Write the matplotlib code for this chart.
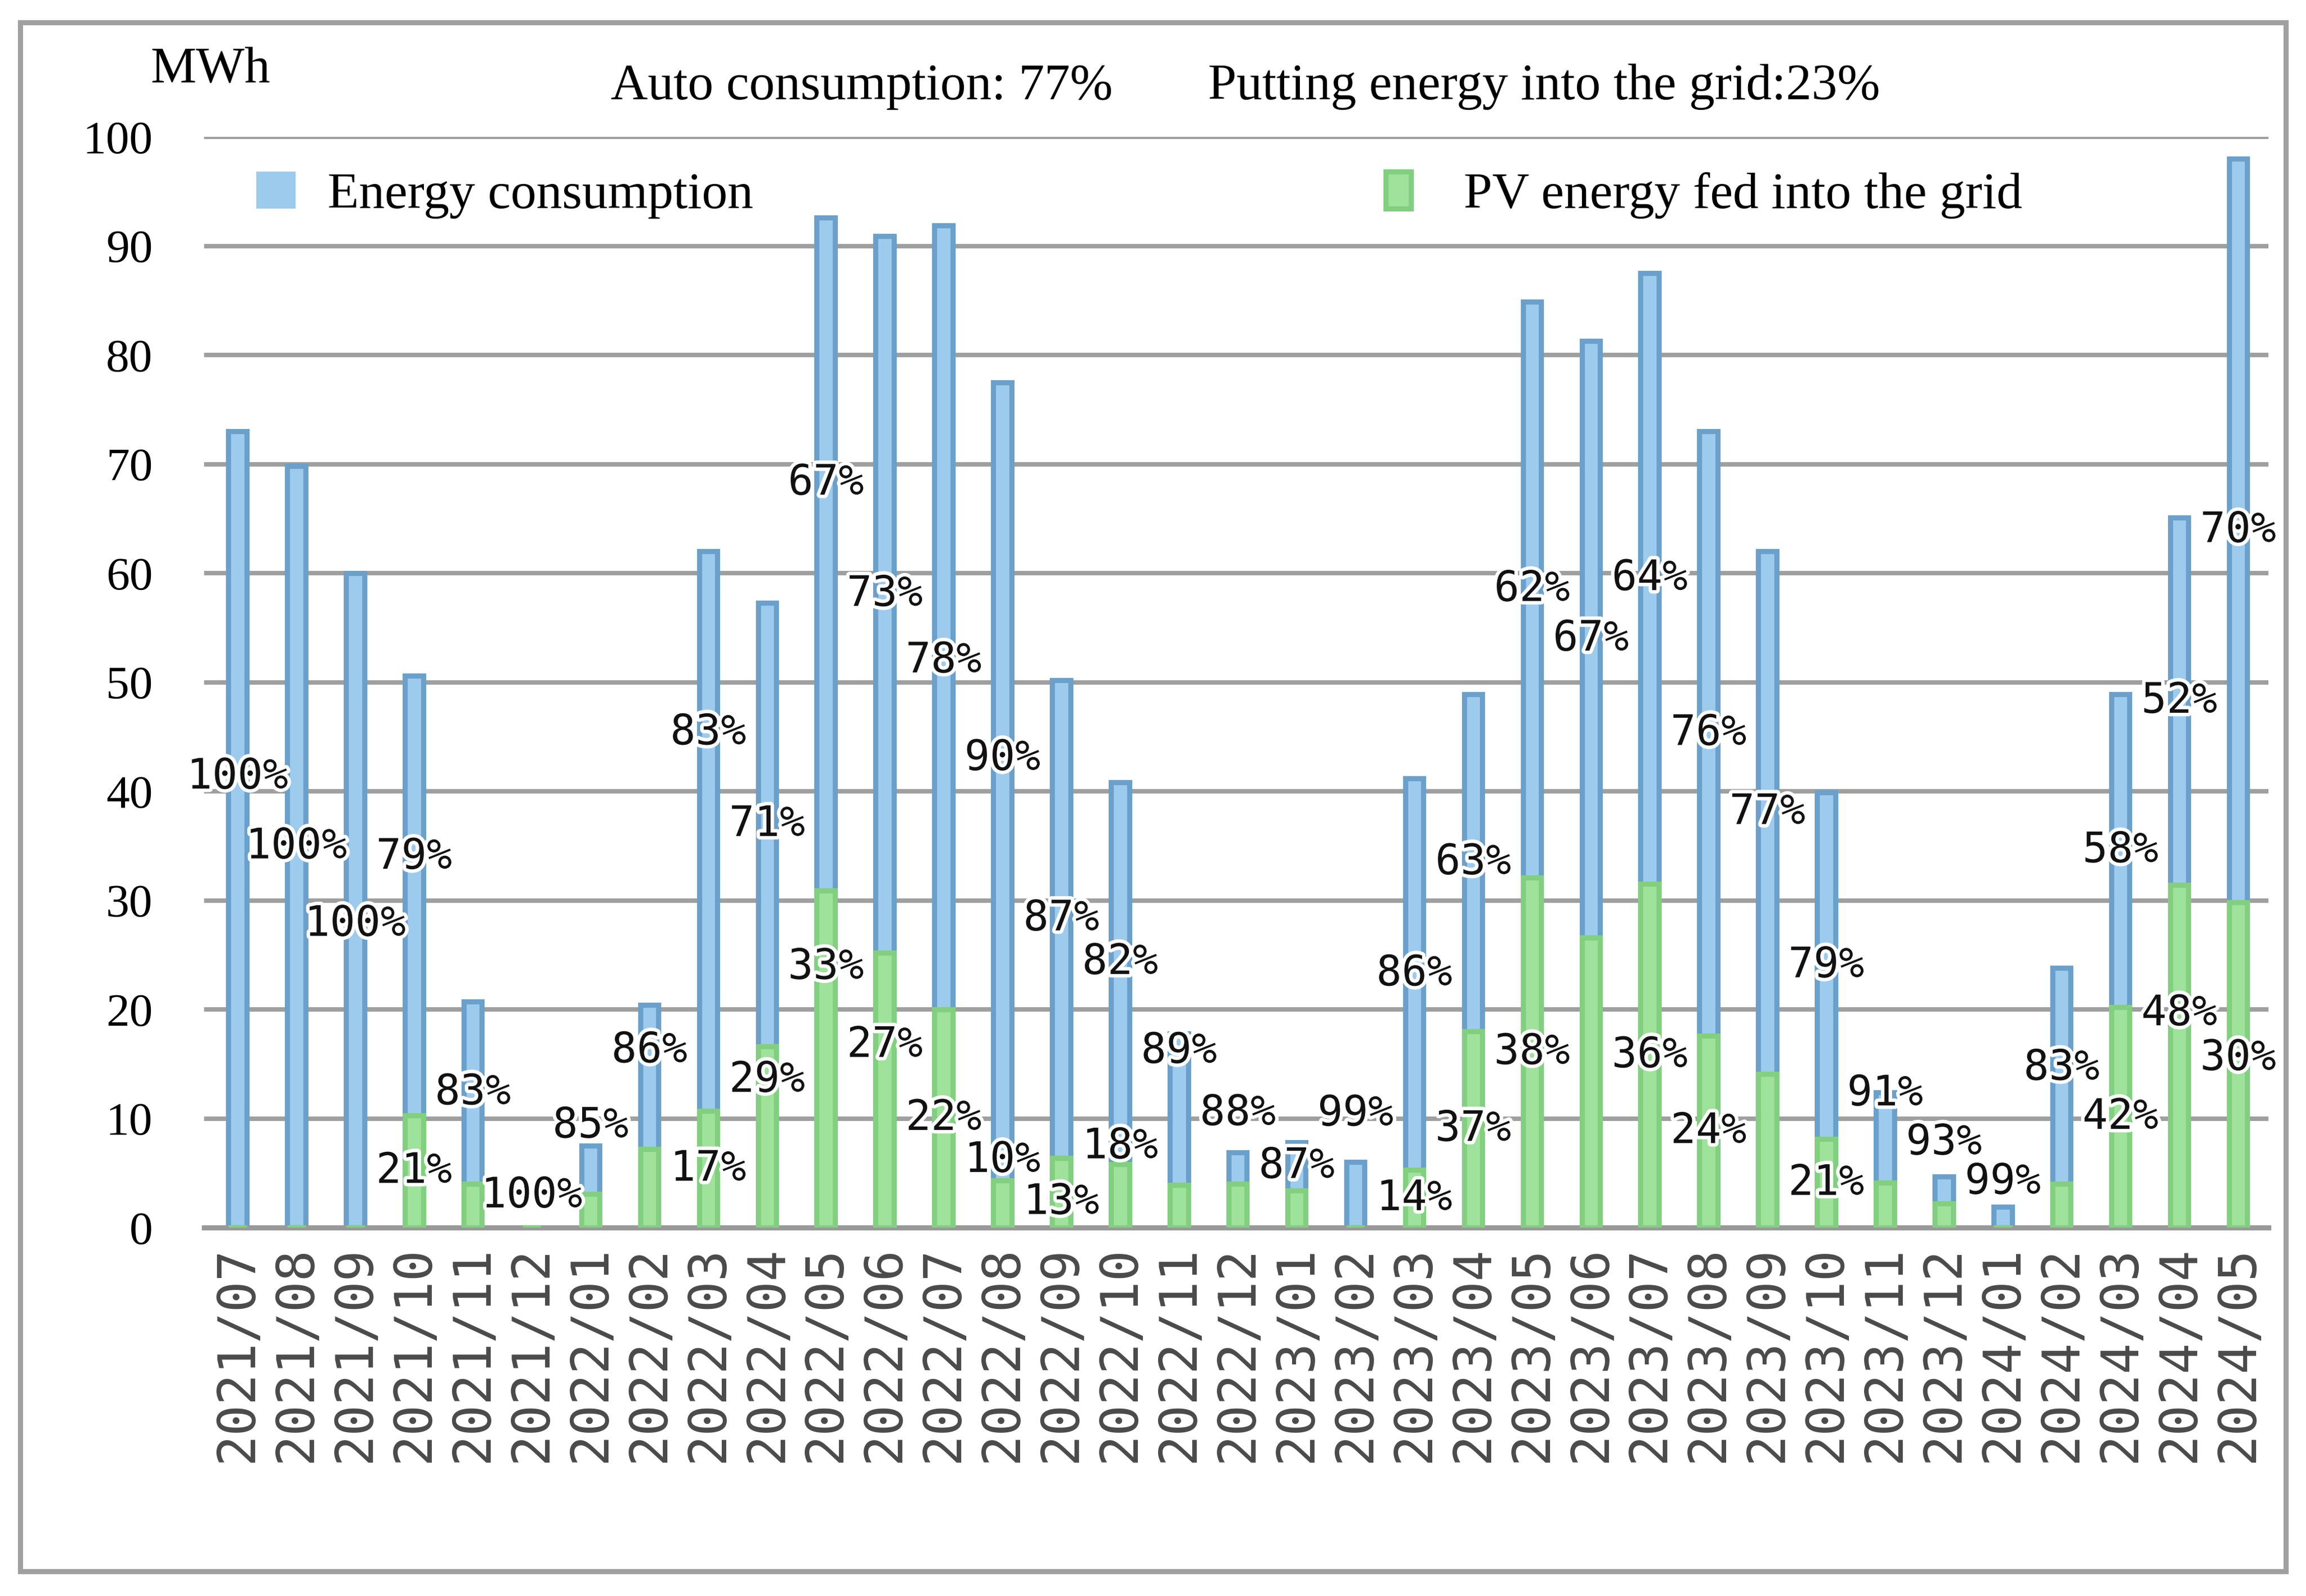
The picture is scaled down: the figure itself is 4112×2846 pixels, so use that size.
import numpy as np
import matplotlib
matplotlib.use("Agg")
import matplotlib.pyplot as plt
from matplotlib.patches import Rectangle
import matplotlib.patheffects as pe

# month labels
months = ["2021/07", "2021/08", "2021/09", "2021/10", "2021/11", "2021/12",
          "2022/01", "2022/02", "2022/03", "2022/04", "2022/05", "2022/06",
          "2022/07", "2022/08", "2022/09", "2022/10", "2022/11", "2022/12",
          "2023/01", "2023/02", "2023/03", "2023/04", "2023/05", "2023/06",
          "2023/07", "2023/08", "2023/09", "2023/10", "2023/11", "2023/12",
          "2024/01", "2024/02", "2024/03", "2024/04", "2024/05"]

# total energy consumption (MWh)
consumption = [73.0, 69.8, 60.0, 50.6, 20.7, 0.0, 7.5, 20.4, 62.0, 57.3,
               92.6, 90.9, 91.9, 77.5, 50.2, 40.8, 17.8, 6.9, 7.8, 6.0,
               41.2, 48.9, 84.9, 81.3, 87.5, 73.0, 62.0, 39.9, 12.4, 4.7,
               1.9, 23.8, 48.9, 65.1, 98.0]

# PV energy fed into the grid (MWh)
pv_fed = [0.0, 0.0, 0.0, 10.3, 4.0, 0.0, 3.1, 7.2, 10.7, 16.6,
          30.9, 25.2, 20.0, 4.3, 6.4, 5.8, 3.9, 4.0, 3.4, 0.0,
          5.3, 18.0, 32.1, 26.6, 31.5, 17.6, 14.1, 8.1, 4.1, 2.2,
          0.0, 4.0, 20.2, 31.4, 29.8]

# percentage labels (None = no label shown)
pct_consumption = [100, 100, 100, 79, 83, 100, 85, 86, 83, 71, 67, 73, 78, 90, 87, 82,
                   89, 88, 87, 99, 86, 63, 62, 67, 64, 76, 77, 79, 91, 93, 99, 83,
                   58, 52, 70]
pct_fed = [None, None, None, 21, None, None, None, None, 17, 29, 33, 27, 22, 10, 13, 18,
           None, None, None, None, 14, 37, 38, None, 36, 24, None, 21, None, None, None,
           None, 42, 48, 30]

# label nudges (MWh) where the original moved a label off the segment centre
nudge_cons = {0: 4.8, 2: -2.2, 3: 3.5, 5: 2.9, 6: 4.0, 7: 2.4, 8: 9.0, 10: 6.5,
              12: -4.0, 13: 2.1, 15: 1.0, 16: 5.3, 17: 5.0, 19: 7.4, 28: 4.0,
              29: 4.3, 30: 3.2, 31: 0.7}
nudge_fed = {9: 5.2, 10: 8.4, 11: 4.1, 13: 4.0, 14: -0.9, 15: 4.5, 33: 3.9, 34: 0.6}

W, H = 4112, 2846
fig = plt.figure(figsize=(W / 300, H / 300), dpi=300)
fig.patch.set_facecolor("white")

# outer frame
fig.patches.append(Rectangle((36 / W, 1 - 2802 / H), (4076 - 36) / W, (2802 - 40) / H,
                             transform=fig.transFigure, fill=False,
                             edgecolor="#a0a0a0", linewidth=2.2))

ax = fig.add_axes([364 / W, 1 - 2189 / H, (4045 - 364) / W, (2189 - 244) / H])

x = np.arange(len(months))
bw = 0.31
blue_bars = ax.bar(x, consumption, width=bw, color="#9dcbee", edgecolor="#6ba0cb",
                   linewidth=2.2, zorder=2)
green_bars = ax.bar(x, pv_fed, width=bw, color="#9fe29b", edgecolor="#82cf80",
                    linewidth=2.2, zorder=3)

halo = [pe.withStroke(linewidth=3, foreground="white")]
for i in range(len(months)):
    if pct_consumption[i] is not None:
        yc = (pv_fed[i] + consumption[i]) / 2 + nudge_cons.get(i, 0)
        ax.text(x[i], yc, f"{pct_consumption[i]}%", ha="center", va="center",
                fontsize=18, family="DejaVu Sans Mono", color="#111111",
                path_effects=halo, zorder=5)
    if pct_fed[i] is not None:
        yg = pv_fed[i] / 2 + nudge_fed.get(i, 0)
        ax.text(x[i], yg, f"{pct_fed[i]}%", ha="center", va="center",
                fontsize=18, family="DejaVu Sans Mono", color="#111111",
                path_effects=halo, zorder=5)

ax.set_xlim(-0.567, 34.515)
ax.set_ylim(0, 100)
ax.set_yticks(np.arange(0, 101, 10))
ax.set_yticklabels([str(v) for v in range(0, 101, 10)],
                   family="Liberation Serif", fontsize=20)
ax.set_xticks(x)
ax.set_xticklabels(months, rotation=90, family="DejaVu Sans Mono", fontsize=22,
                   color="#4a4a4a")
ax.tick_params(axis="y", length=0, pad=22)
ax.tick_params(axis="x", length=0, pad=8)

for s in ["top", "left", "right"]:
    ax.spines[s].set_visible(False)
ax.spines["bottom"].set_color("#999999")
ax.spines["bottom"].set_linewidth(2.2)
ax.yaxis.grid(True, color="#9f9f9f", linewidth=1.9)
ax.set_axisbelow(True)

# header texts
fig.text(375 / W, 1 - 147 / H, "MWh", ha="center", va="baseline",
         family="Liberation Serif", fontsize=22)
fig.text(1089 / W, 1 - 177 / H, "Auto consumption: 77%", ha="left", va="baseline",
         family="Liberation Serif", fontsize=22)
fig.text(2154 / W, 1 - 177 / H, "Putting energy into the grid:23%", ha="left",
         va="baseline", family="Liberation Serif", fontsize=22)

# legends
leg_font = {"family": "Liberation Serif", "size": 22}
leg1 = fig.legend([blue_bars], ["Energy consumption"], loc="center left",
                  bbox_to_anchor=(457 / W, 1 - 348 / H), frameon=False, prop=leg_font,
                  borderpad=0, borderaxespad=0, handlelength=0.76, handleheight=0.72,
                  handletextpad=0.63)
leg1.legend_handles[0].set_edgecolor("none")
leg2 = fig.legend([green_bars], ["PV energy fed into the grid"], loc="center left",
                  bbox_to_anchor=(2471 / W, 1 - 348 / H), frameon=False, prop=leg_font,
                  borderpad=0, borderaxespad=0, handlelength=0.49, handleheight=0.72,
                  handletextpad=1.03)

fig.savefig("out.png", dpi=300)
